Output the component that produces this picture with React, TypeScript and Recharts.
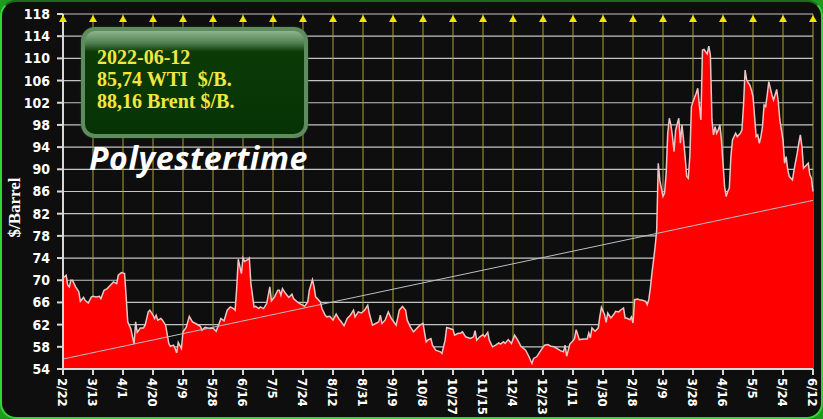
import React from 'react';
import {
  ComposedChart,
  Area,
  Line,
  XAxis,
  YAxis,
  CartesianGrid,
  ReferenceDot,
  Label,
} from 'recharts';

// days counted from 2021-02-22
const DAYS = [
  0, 2, 3, 4, 5, 6, 8, 10, 11, 13, 14, 16, 18, 19, 21, 23, 24, 26, 28, 30, 32, 34, 35, 37, 39, 40,
  41, 43, 45, 46, 47, 49, 51, 52, 54, 55, 57, 58, 59, 60, 62, 63, 65, 67, 68, 70, 71, 72, 73, 75,
  76, 78, 80, 82, 84, 87, 88, 90, 93, 95, 97, 99, 100, 102, 104, 106, 108, 109, 110, 111, 113, 114,
  115, 117, 118, 119, 121, 122, 124, 125, 127, 129, 131, 132, 134, 136, 137, 138, 139, 141, 143,
  145, 146, 148, 150, 153, 155, 156, 158, 159, 160, 163, 164, 166, 167, 169, 171, 173, 175, 176,
  178, 180, 182, 184, 185, 187, 189, 191, 193, 194, 196, 198, 200, 201, 202, 204, 206, 208, 210,
  211, 213, 215, 217, 218, 220, 222, 224, 226, 228, 230, 231, 233, 234, 236, 239, 240, 242, 243,
  245, 247, 248, 250, 252, 253, 255, 258, 260, 261, 262, 264, 266, 267, 269, 270, 272, 274, 276,
  277, 279, 280, 282, 284, 286, 288, 290, 293, 295, 297, 298, 300, 302, 305, 307, 309, 311, 314,
  315, 317, 318, 319, 321, 323, 324, 325, 326, 327, 330, 332, 333, 334, 335, 337, 339, 340, 341,
  343, 344, 345, 347, 349, 350, 352, 353, 355, 356, 357, 359, 360, 361, 362, 364, 365, 367, 369,
  370, 371, 372, 373, 374, 375, 376, 377, 378, 380, 381, 382, 383, 384, 385, 386, 387, 388, 390,
  391, 392, 393, 394, 395, 396, 397, 398, 399, 401, 402, 403, 404, 405, 406, 407, 408, 409, 410,
  411, 412, 413, 414, 415, 416, 417, 418, 419, 420, 421, 422, 423, 424, 426, 427, 429, 430, 431,
  432, 433, 434, 435, 436, 437, 438, 439, 440, 441, 442, 443, 444, 445, 446, 447, 448, 449, 450,
  452, 453, 454, 456, 457, 458, 459, 460, 462, 463, 465, 466, 467, 468, 469, 470, 471, 472, 473,
  474, 475,
];

const WTI = [
  70.4, 70.9, 69.1, 68.8, 70, 70, 68.8, 67.9, 66.2, 66.9, 66.4, 65.9, 67, 67.1, 67, 67.1, 66.7, 68.2,
  68.5, 69.1, 69.7, 69.4, 70.9, 71.4, 71.2, 67, 62.5, 61.2, 58.5, 62.5, 60.6, 61.4, 61.4, 61.9, 64.3,
  64.6, 63.7, 63.1, 63.7, 62.8, 63.1, 62.8, 61.9, 58.6, 58.1, 58.3, 57.7, 56.9, 58.8, 57.7, 60.7, 61.5,
  63.5, 62.5, 62.2, 61.7, 61, 61.5, 61.3, 61.4, 60.8, 62.3, 63.1, 62.7, 64.6, 65.2, 64.9, 64.6, 68.5,
  73.8, 71.2, 74, 73.4, 73.7, 74, 69.4, 65.2, 65.3, 64.9, 65.2, 64.9, 65.8, 68.8, 66.3, 67, 68.2, 68.2,
  67.3, 68.5, 67.6, 66.9, 67.5, 66.7, 66.2, 65.8, 65.3, 66.1, 68.2, 70.1, 68.8, 67, 66.1, 64.9, 63.7,
  63.4, 63.5, 62.8, 63.9, 62.9, 62.6, 61.8, 63.1, 63.7, 64.6, 63.4, 64.3, 64.1, 64.6, 65.5, 64, 61.9,
  62.2, 62.5, 63.7, 62.2, 62.8, 64.3, 63.1, 62.3, 61.9, 64.6, 65.3, 64.6, 62.8, 61.6, 60.7, 61.3,
  61.9, 62.2, 58.9, 59.2, 59.5, 58.3, 57.4, 57.1, 56.8, 59.2, 61.5, 61.3, 61.1, 60.1, 60.4, 60.5,
  60.7, 59.8, 59.5, 59.8, 60.9, 59.2, 59.8, 60.2, 59.8, 60.6, 59.2, 58, 58.3, 58.7, 58.5, 58.9, 58.6,
  59.3, 58.6, 60.1, 59.2, 58.1, 57.4, 56.3, 55, 55.9, 56.2, 57.1, 58.3, 58.4, 58.1, 58, 57.5, 57.3,
  57.1, 58.3, 56.3, 58.5, 59.1, 59.5, 61.1, 60.2, 59.3, 59.4, 59.4, 60.5, 59.6, 61.4, 60.8, 61.4,
  63.5, 65.1, 63.8, 62.4, 64.1, 63.2, 63.9, 64.4, 64.3, 64.6, 65, 63.2, 63.2, 62.9, 63.4, 62.3, 66.5,
  66.6, 66.5, 66.4, 66.2, 65.6, 66.5, 68.6, 71.3, 73.6, 76, 79, 91.1, 88, 85.1, 85.7, 89.3, 96.5,
  99.2, 98, 95.9, 93.2, 97.1, 99.2, 94.7, 98, 95.3, 92.3, 88.7, 88.4, 92.3, 101.3, 102.2, 103.7,
  104.6, 101.6, 98.9, 111.5, 111.6, 111.2, 110.8, 112.2, 110.6, 98.9, 96.2, 97.7, 96.5, 97.1, 98,
  95.3, 91.1, 86.9, 85.1, 86, 86.6, 92.3, 95.3, 96.5, 95.9, 96.5, 97.1, 101.6, 107.9, 106.1, 105.6,
  105.2, 104.3, 103.1, 99.5, 95.9, 96.2, 94.7, 95.9, 97.7, 101.6, 101.3, 103.4, 105.8, 104.6, 103.4,
  102.5, 104.4, 102.2, 98.9, 95.3, 91.1, 92.3, 89.9, 88.7, 88.1, 89.9, 92.9, 94.7, 96.2, 94.1, 90.2,
  90.5, 90.8, 91.1, 89, 88.4, 86,
];

const TREND_START = 55.8;
const TREND_END = 84.4;

const TICK_LABELS = [
  '2/22', '3/13', '4/1', '4/20', '5/9', '5/28', '6/16', '7/5', '7/24', '8/12', '8/31', '9/19',
  '10/8', '10/27', '11/15', '12/4', '12/23', '1/11', '1/30', '2/18', '3/9', '3/28', '4/16', '5/5',
  '5/24', '6/12',
];
const TICK_STEP = 19;
const X_TICKS = TICK_LABELS.map((_, i) => i * TICK_STEP);
const Y_TICKS = [54, 58, 62, 66, 70, 74, 78, 82, 86, 90, 94, 98, 102, 106, 110, 114, 118];

const INFO_LINES = ['2022-06-12', '85,74 WTI  $/B.', '88,16 Brent $/B.'];

const rows = DAYS.map((d, i) => ({
  day: d,
  wti: WTI[i],
  trend: i === 0 ? TREND_START : i === DAYS.length - 1 ? TREND_END : null,
}));

const axisFont = "'DejaVu Sans Condensed', 'DejaVu Sans', sans-serif";

const XTick = (props: any) => {
  const { x, y, payload } = props;
  const label = TICK_LABELS[Math.round(payload.value / TICK_STEP)];
  return (
    <text
      x={x}
      y={y}
      transform={`rotate(90, ${x}, ${y})`}
      dy="0.36em"
      textAnchor="start"
      fill="#ffffff"
      fontSize={13}
      fontWeight="bold"
      fontFamily={axisFont}
    >
      {label}
    </text>
  );
};

const Arrow = (props: any) => {
  const { cx, cy } = props;
  if (cx == null || cy == null) return null;
  return <polygon points={`${cx - 4},${cy + 8} ${cx + 4},${cy + 8} ${cx},${cy + 1}`} fill="#f2e600" />;
};

const YTitle = (props: any) => {
  const { viewBox } = props;
  const x = viewBox.x + 14;
  const y = viewBox.y + viewBox.height / 2 + 16;
  return (
    <text
      x={x}
      y={y}
      transform={`rotate(-90, ${x}, ${y})`}
      textAnchor="middle"
      dy="0.35em"
      fill="#ffffff"
      fontSize={17}
      fontWeight="bold"
      fontFamily="'Liberation Serif', serif"
    >
      $/Barrel
    </text>
  );
};

export default function App() {
  return (
    <div style={{ position: 'relative', width: 823, height: 419, background: '#1f9a1f', overflow: 'hidden' }}>
      <style>{'body{margin:0}'}</style>
      <div
        style={{
          position: 'absolute',
          inset: 0,
          borderRadius: 16,
          background: '#0e0e0e',
          borderStyle: 'solid',
          borderWidth: 2,
          borderColor: '#1c6a1c #33d633 #33d633 #33d633',
          boxSizing: 'border-box',
        }}
      />
      <div style={{ position: 'absolute', left: 0, top: 0 }}>
        <ComposedChart width={823} height={419} data={rows} margin={{ top: 14, right: 10, bottom: 0, left: 0 }}>
          <CartesianGrid horizontal vertical={false} stroke="#c4c4c4" strokeWidth={1.2} />
          <CartesianGrid horizontal={false} vertical stroke="#aca236" strokeWidth={1} />
          <XAxis
            dataKey="day"
            type="number"
            domain={[0, 475]}
            ticks={X_TICKS}
            interval={0}
            height={50}
            tick={<XTick />}
            tickSize={6}
            tickMargin={3}
            stroke="#d8d8d8"
            strokeWidth={2}
          />
          <YAxis
            type="number"
            domain={[54, 118]}
            ticks={Y_TICKS}
            interval={0}
            width={63}
            tickSize={6}
            tickMargin={7}
            stroke="#d8d8d8"
            strokeWidth={2}
            tick={{ fill: '#ffffff', fontSize: 14, fontWeight: 'bold', fontFamily: axisFont }}
          >
            <Label content={<YTitle />} />
          </YAxis>
          <Area
            type="linear"
            dataKey="wti"
            fill="#ff0000"
            fillOpacity={1}
            stroke="#e9c6c6"
            strokeWidth={1.5}
            isAnimationActive={false}
          />
          <Line
            type="linear"
            dataKey="trend"
            connectNulls
            stroke="#b9c0c6"
            strokeWidth={1}
            dot={false}
            isAnimationActive={false}
          />
          {X_TICKS.map((t) => (
            <ReferenceDot key={t} x={t} y={118} r={4} ifOverflow="visible" shape={<Arrow />} />
          ))}
        </ComposedChart>
      </div>
      <div
        style={{
          position: 'absolute',
          left: 81,
          top: 27,
          width: 227,
          height: 111,
          boxSizing: 'border-box',
          borderRadius: 14,
          border: '4px solid #5f8c5f',
          background: 'linear-gradient(180deg, #8fb58f 0%, #4f7f4f 12%, #0b3a06 20%, #063304 100%)',
          boxShadow: '0 0 2px #2a4a2a',
          padding: '15px 0 0 12px',
          fontFamily: "'Liberation Serif', serif",
          fontWeight: 'bold',
          fontSize: 20,
          lineHeight: '22px',
          color: '#f2e640',
          whiteSpace: 'pre',
        }}
      >
        {INFO_LINES.map((l) => (
          <div key={l}>{l}</div>
        ))}
      </div>
      <div
        style={{
          position: 'absolute',
          left: 89,
          top: 138,
          fontFamily: "'Open Sans', sans-serif",
          fontStyle: 'italic',
          fontWeight: 'bold',
          fontSize: 32,
          letterSpacing: 0.6,
          lineHeight: '40px',
          color: '#ffffff',
        }}
      >
        Polyestertime
      </div>
    </div>
  );
}
